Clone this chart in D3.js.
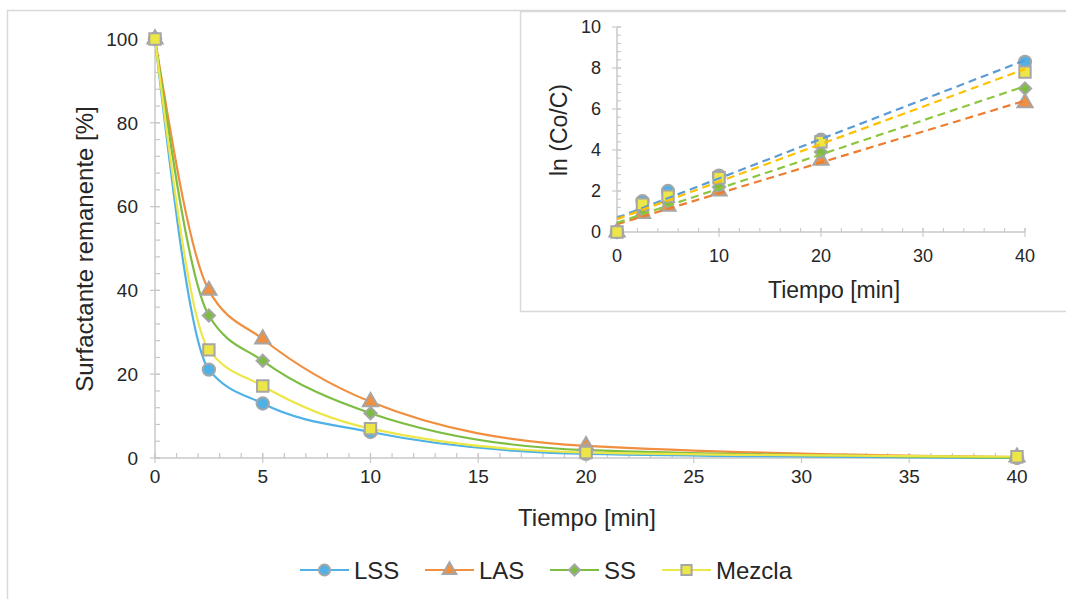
<!DOCTYPE html>
<html>
<head>
<meta charset="utf-8">
<script src="https://cdn.jsdelivr.net/npm/d3@7"></script>
<style>
  body { margin: 0; background: #fff; }
  svg { font-family: "Liberation Sans", Arial, sans-serif; }
</style>
</head>
<body>
<div id="chart"></div>
<script>
// Tiempo [min]
const times = [0, 2.5, 5, 10, 20, 40];

// Surfactante remanente [%]
const lssPct = [100, 21.1, 13.0, 6.2, 1.0, 0.0];
const lasPct = [100, 40.0, 28.4, 13.4, 2.9, 0.2];
const ssPct = [100, 34.0, 23.2, 10.7, 1.9, 0.1];
const mezPct = [100, 25.8, 17.2, 7.0, 1.3, 0.3];

// ln (Co/C)
const lssLn = [0, 1.5, 2.0, 2.75, 4.5, 8.3];
const lasLn = [0, 0.9, 1.25, 2.0, 3.5, 6.3];
const ssLn = [0, 1.07, 1.45, 2.2, 3.9, 7.0];
const mezLn = [0, 1.35, 1.75, 2.65, 4.4, 7.8];

const seriesNames = ["LSS", "LAS", "SS", "Mezcla"];
const xTicksMain = [0, 5, 10, 15, 20, 25, 30, 35, 40];
const yTicksMain = [0, 20, 40, 60, 80, 100];
const xTicksInset = [0, 10, 20, 30, 40];
const yTicksInset = [0, 2, 4, 6, 8, 10];

(function () {
  const width = 1066;
  const height = 599;
  const axisColor = "#c8c8c8";
  const markerStroke = "#a6a6a6";
  const textColor = "#262626";

  // square rotated 45 deg, same width and height
  const symbolDiamondSq = {
    draw(ctx, size) {
      const r = Math.sqrt(size / 2);
      ctx.moveTo(0, -r);
      ctx.lineTo(r, 0);
      ctx.lineTo(0, r);
      ctx.lineTo(-r, 0);
      ctx.closePath();
    },
  };

  const series = [
    { name: "LSS", pct: lssPct, ln: lssLn, color: "#4fb1e6", trend: "#5b9bd5", shape: d3.symbolCircle, size: 120 },
    { name: "LAS", pct: lasPct, ln: lasLn, color: "#ef8f3f", trend: "#ed7d31", shape: d3.symbolTriangle, size: 100 },
    { name: "SS", pct: ssPct, ln: ssLn, color: "#7cbd42", trend: "#8cc63f", shape: symbolDiamondSq, size: 75 },
    { name: "Mezcla", pct: mezPct, ln: mezLn, color: "#ece647", trend: "#ffc000", shape: d3.symbolSquare, size: 130 },
  ];

  const svg = d3.select("#chart").append("svg")
    .attr("width", width).attr("height", height);

  // outer chart border
  svg.append("rect")
    .attr("x", 7.5).attr("y", 10.5)
    .attr("width", width + 20).attr("height", height + 20)
    .attr("fill", "none").attr("stroke", "#d9d9d9").attr("stroke-width", 1.5);

  // ---- main chart ----
  const x = d3.scaleLinear().domain([0, 40]).range([155, 1017]);
  const y = d3.scaleLinear().domain([0, 100]).range([458, 39]);

  // y axis
  svg.append("line")
    .attr("x1", x(0)).attr("x2", x(0)).attr("y1", y(0)).attr("y2", y(100))
    .attr("stroke", axisColor).attr("stroke-width", 1.5);
  svg.selectAll(".ymin").data(d3.range(0, 101, 4)).enter().append("line")
    .attr("x1", x(0)).attr("x2", x(0) + 5)
    .attr("y1", (d) => y(d)).attr("y2", (d) => y(d))
    .attr("stroke", axisColor).attr("stroke-width", 1.2);
  svg.selectAll(".ymaj").data(yTicksMain).enter().append("line")
    .attr("x1", x(0) - 5).attr("x2", x(0) + 5)
    .attr("y1", (d) => y(d)).attr("y2", (d) => y(d))
    .attr("stroke", axisColor).attr("stroke-width", 1.2);
  svg.selectAll(".ylab").data(yTicksMain).enter().append("text")
    .attr("x", 138).attr("y", (d) => y(d)).attr("dy", "0.36em")
    .attr("text-anchor", "end").attr("font-size", 19).attr("fill", textColor)
    .text((d) => d);

  // x axis
  svg.append("line")
    .attr("x1", x(0)).attr("x2", x(40)).attr("y1", y(0)).attr("y2", y(0))
    .attr("stroke", axisColor).attr("stroke-width", 1.5);
  svg.selectAll(".xmin").data(d3.range(0, 41, 1)).enter().append("line")
    .attr("x1", (d) => x(d)).attr("x2", (d) => x(d))
    .attr("y1", y(0)).attr("y2", y(0) - 5)
    .attr("stroke", axisColor).attr("stroke-width", 1.2);
  svg.selectAll(".xmaj").data(xTicksMain).enter().append("line")
    .attr("x1", (d) => x(d)).attr("x2", (d) => x(d))
    .attr("y1", y(0) - 5).attr("y2", y(0) + 5)
    .attr("stroke", axisColor).attr("stroke-width", 1.2);
  svg.selectAll(".xlab").data(xTicksMain).enter().append("text")
    .attr("x", (d) => x(d)).attr("y", 483)
    .attr("text-anchor", "middle").attr("font-size", 19).attr("fill", textColor)
    .text((d) => d);

  // axis titles
  svg.append("text")
    .attr("transform", "translate(93,249) rotate(-90)")
    .attr("text-anchor", "middle").attr("font-size", 24).attr("fill", textColor)
    .text("Surfactante remanente [%]");
  svg.append("text")
    .attr("x", 587).attr("y", 526)
    .attr("text-anchor", "middle").attr("font-size", 24).attr("fill", textColor)
    .text("Tiempo [min]");

  // smoothed lines
  const line = d3.line()
    .x((d) => x(d[0])).y((d) => y(d[1]))
    .curve(d3.curveMonotoneX);

  series.forEach((s) => {
    const pts = times.map((t, i) => [t, s.pct[i]]);
    svg.append("path").datum(pts)
      .attr("d", line).attr("fill", "none")
      .attr("stroke", s.color).attr("stroke-width", 2.2);
  });
  series.forEach((s) => {
    const pts = times.map((t, i) => [t, s.pct[i]]);
    svg.selectAll(null).data(pts).enter().append("path")
      .attr("transform", (d) => `translate(${x(d[0])},${y(d[1])})`)
      .attr("d", d3.symbol().type(s.shape).size(s.size))
      .attr("fill", s.color).attr("stroke", markerStroke).attr("stroke-width", 2);
  });

  // legend
  const legendX = [300, 425, 550, 662];
  const legendY = 570;
  series.forEach((s, i) => {
    const g = svg.append("g").attr("transform", `translate(${legendX[i]},${legendY})`);
    g.append("line").attr("x1", 0).attr("x2", 49).attr("y1", 0).attr("y2", 0)
      .attr("stroke", s.color).attr("stroke-width", 2.2);
    g.append("path").attr("transform", "translate(24.5,0)")
      .attr("d", d3.symbol().type(s.shape).size(s.size * 0.8))
      .attr("fill", s.color).attr("stroke", markerStroke).attr("stroke-width", 2);
    g.append("text").attr("x", 54).attr("y", 0).attr("dy", "0.36em")
      .attr("font-size", 24).attr("fill", textColor).text(seriesNames[i]);
  });

  // ---- inset ----
  svg.append("rect")
    .attr("x", 520.5).attr("y", 11.5)
    .attr("width", width).attr("height", 300)
    .attr("fill", "#fff").attr("stroke", "#d9d9d9").attr("stroke-width", 1.5);

  const xi = d3.scaleLinear().domain([0, 40]).range([617, 1025]);
  const yi = d3.scaleLinear().domain([0, 10]).range([232, 27]);

  svg.append("line")
    .attr("x1", xi(0)).attr("x2", xi(0)).attr("y1", yi(0)).attr("y2", yi(10))
    .attr("stroke", axisColor).attr("stroke-width", 1.5);
  svg.selectAll(".yimin").data(d3.range(0, 10.01, 0.4)).enter().append("line")
    .attr("x1", xi(0)).attr("x2", xi(0) + 4)
    .attr("y1", (d) => yi(d)).attr("y2", (d) => yi(d))
    .attr("stroke", axisColor).attr("stroke-width", 1.1);
  svg.selectAll(".yimaj").data(yTicksInset).enter().append("line")
    .attr("x1", xi(0) - 5).attr("x2", xi(0) + 4)
    .attr("y1", (d) => yi(d)).attr("y2", (d) => yi(d))
    .attr("stroke", axisColor).attr("stroke-width", 1.1);
  svg.selectAll(".yilab").data(yTicksInset).enter().append("text")
    .attr("x", 601).attr("y", (d) => yi(d)).attr("dy", "0.36em")
    .attr("text-anchor", "end").attr("font-size", 18).attr("fill", textColor)
    .text((d) => d);

  svg.append("line")
    .attr("x1", xi(0)).attr("x2", xi(40)).attr("y1", yi(0)).attr("y2", yi(0))
    .attr("stroke", axisColor).attr("stroke-width", 1.5);
  svg.selectAll(".ximin").data(d3.range(0, 41, 2)).enter().append("line")
    .attr("x1", (d) => xi(d)).attr("x2", (d) => xi(d))
    .attr("y1", yi(0)).attr("y2", yi(0) - 4)
    .attr("stroke", axisColor).attr("stroke-width", 1.1);
  svg.selectAll(".ximaj").data(xTicksInset).enter().append("line")
    .attr("x1", (d) => xi(d)).attr("x2", (d) => xi(d))
    .attr("y1", yi(0) - 4).attr("y2", yi(0) + 5)
    .attr("stroke", axisColor).attr("stroke-width", 1.1);
  svg.selectAll(".xilab").data(xTicksInset).enter().append("text")
    .attr("x", (d) => xi(d)).attr("y", 262)
    .attr("text-anchor", "middle").attr("font-size", 18).attr("fill", textColor)
    .text((d) => d);

  svg.append("text")
    .attr("transform", "translate(567,130) rotate(-90)")
    .attr("text-anchor", "middle").attr("font-size", 23).attr("fill", textColor)
    .text("ln (Co/C)");
  svg.append("text")
    .attr("x", 834).attr("y", 298)
    .attr("text-anchor", "middle").attr("font-size", 23).attr("fill", textColor)
    .text("Tiempo [min]");

  // markers first, linear trendlines on top
  series.forEach((s) => {
    const pts = times.map((t, i) => [t, s.ln[i]]);
    svg.selectAll(null).data(pts).enter().append("path")
      .attr("transform", (d) => `translate(${xi(d[0])},${yi(d[1])})`)
      .attr("d", d3.symbol().type(s.shape).size(s.size))
      .attr("fill", s.color).attr("stroke", markerStroke).attr("stroke-width", 2);
  });
  series.forEach((s) => {
    const mt = d3.mean(times);
    const my = d3.mean(s.ln);
    const sxy = d3.sum(times, (t, i) => (t - mt) * (s.ln[i] - my));
    const sxx = d3.sum(times, (t) => (t - mt) * (t - mt));
    const slope = sxy / sxx;
    const b = my - slope * mt;
    svg.append("line")
      .attr("x1", xi(0)).attr("y1", yi(b))
      .attr("x2", xi(40)).attr("y2", yi(b + slope * 40))
      .attr("stroke", s.trend).attr("stroke-width", 2.2)
      .attr("stroke-dasharray", "8,5");
  });
})();
</script>
</body>
</html>
